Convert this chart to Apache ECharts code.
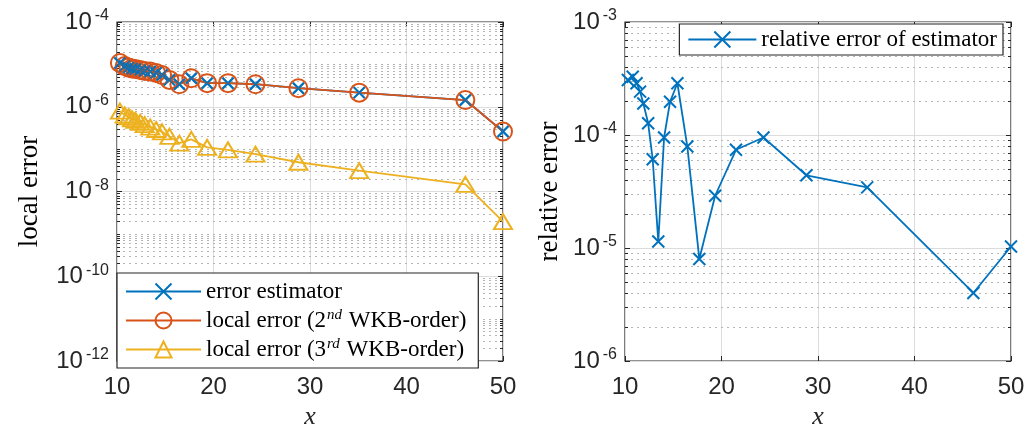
<!DOCTYPE html>
<html><head><meta charset="utf-8">
<script src="https://cdn.jsdelivr.net/npm/echarts@6/dist/echarts.min.js"></script>
<style>html,body{margin:0;padding:0;background:#fff}#c{width:1026px;height:428px}</style>
</head><body><div id="c"></div>
<script>
// ---- data ----
const xValues = [10.3, 10.8, 11.2, 11.56, 11.9, 12.4, 12.87, 13.45, 14.05, 14.67, 15.43, 16.46, 17.7, 19.34, 21.5, 24.35, 28.8, 35.1, 46.1, 50.0];
const errorEstimator = [1.08e-5, 9.1e-6, 8.4e-6, 8.0e-6, 7.8e-6, 7.4e-6, 7.0e-6, 6.8e-6, 6.3e-6, 5.6e-6, 4.3e-6, 3.4e-6, 4.7e-6, 3.6e-6, 3.6e-6, 3.4e-6, 2.74e-6, 2.15e-6, 1.44e-6, 2.6e-7];
const localError2nd = [1.08e-5, 9.1e-6, 8.4e-6, 8.0e-6, 7.8e-6, 7.4e-6, 7.0e-6, 6.8e-6, 6.3e-6, 5.6e-6, 4.3e-6, 3.4e-6, 4.7e-6, 3.6e-6, 3.6e-6, 3.4e-6, 2.74e-6, 2.15e-6, 1.44e-6, 2.6e-7];
const localError3rd = [7.9e-7, 6.4e-7, 5.8e-7, 5.2e-7, 4.8e-7, 4.3e-7, 3.8e-7, 3.3e-7, 2.9e-7, 2.56e-7, 2.0e-7, 1.38e-7, 1.7e-7, 1.1e-7, 9.6e-8, 7.6e-8, 4.9e-8, 3.1e-8, 1.47e-8, 1.95e-9];
const relativeError = [3.07e-4, 3.28e-4, 2.87e-4, 2.42e-4, 1.9e-4, 1.27e-4, 6.1e-5, 1.14e-5, 9.5e-5, 1.97e-4, 2.87e-4, 7.9e-5, 8.0e-6, 2.9e-5, 7.4e-5, 9.5e-5, 4.4e-5, 3.44e-5, 4.0e-6, 1.03e-5];
const xTicks = [10, 20, 30, 40, 50];
const leftYExponents = [-12, -10, -8, -6, -4];
const rightYExponents = [-6, -5, -4, -3];
const legendNames = ['error estimator', 'local error (2nd WKB-order)', 'local error (3rd WKB-order)', 'relative error of estimator'];

// ---- styles ----
const BLUE = '#0072BD', RED = '#D95319', YEL = '#EDB120', AX = '#262626';
const CROSS = 'path://M0,0L10,10M10,0L0,10';
const xMin = xTicks[0], xMax = xTicks[xTicks.length - 1];

function pairs(ys) { return xValues.map((x, i) => [x, ys[i]]); }
function minorVals(e0, e1) {
  const out = [];
  for (let e = e0; e < e1; e++) for (let m = 1; m <= 9; m++) {
    if (m === 1 && e === e0) continue;
    out.push(m * Math.pow(10, e));
  }
  return out;
}
function supFmt(v) {
  const e = Math.round(Math.log10(v));
  return '{b|10}{e|' + e + '}';
}
const tickRich = {
  b: { fontSize: 24, fontFamily: 'Liberation Sans', color: AX },
  e: { fontSize: 16, fontFamily: 'Liberation Sans', color: AX, padding: [0, 0, 12, 3] }
};
function xAxisDef(gi, pos, show) {
  return {
    type: 'value', gridIndex: gi, position: pos, min: xMin, max: xMax, interval: 10,
    axisLine: { show: false },
    axisTick: { show: true, inside: true, length: 5, lineStyle: { color: AX } },
    axisLabel: { show: show, margin: 14, fontSize: 24, fontFamily: 'Liberation Sans', color: AX },
    splitLine: { show: show, lineStyle: { color: '#dcdcdc', width: 1 } },
    name: show ? 'x' : '', nameLocation: 'middle', nameGap: 34,
    nameTextStyle: { fontFamily: 'Liberation Serif', fontStyle: 'italic', fontSize: 26, color: AX }
  };
}
function yAxisDef(gi, pos, e0, e1, interval, show, name, nameGap) {
  return {
    type: 'log', logBase: 10, gridIndex: gi, position: pos,
    min: Math.pow(10, e0), max: Math.pow(10, e1), interval: interval,
    axisLine: { show: false },
    axisTick: { show: true, inside: true, length: 5, lineStyle: { color: AX } },
    axisLabel: { show: show, margin: 8, formatter: supFmt, rich: tickRich },
    splitLine: { show: show, lineStyle: { color: '#dcdcdc', width: 1 } },
    minorTick: { show: false }, minorSplitLine: { show: false },
    name: show ? name : '', nameLocation: 'middle', nameGap: nameGap, nameRotate: 90,
    nameTextStyle: { fontFamily: 'Liberation Serif', fontSize: 27, color: '#000' }
  };
}
function minorGrid(xi, yi, vals) {
  return {
    type: 'custom', xAxisIndex: xi, yAxisIndex: yi, silent: true, z: 1, clip: false,
    data: vals.map(v => [xMin, v]), encode: { x: 0, y: 1 },
    renderItem: (params, api) => {
      const v = api.value(1);
      const a = api.coord([xMin, v]), b = api.coord([xMax, v]);
      const y = Math.round(a[1]) + 0.5;
      return { type: 'group', children: [
        { type: 'line', shape: { x1: a[0], y1: y, x2: b[0], y2: y }, style: { stroke: '#b5b5b5', lineWidth: 1, lineDash: [2, 4] } },
        { type: 'line', shape: { x1: a[0], y1: y, x2: a[0] + 3, y2: y }, style: { stroke: AX, lineWidth: 1 } },
        { type: 'line', shape: { x1: b[0] - 3, y1: y, x2: b[0], y2: y }, style: { stroke: AX, lineWidth: 1 } }
      ] };
    }
  };
}
const legText = {
  fontSize: 23, fontFamily: 'Liberation Serif', color: '#000',
  rich: {
    t: { fontSize: 23, lineHeight: 22, fontFamily: 'Liberation Serif', color: '#000' },
    s: { fontSize: 15, fontStyle: 'italic', fontFamily: 'Liberation Serif', color: '#000', padding: [0, 1, 10, 1] }
  }
};
function legFmt(name) {
  if (name === legendNames[1]) return '{t|local error (2}{s|nd}{t| WKB-order)}';
  if (name === legendNames[2]) return '{t|local error (3}{s|rd}{t| WKB-order)}';
  return '{t|' + name + '}';
}

const chart = echarts.init(document.getElementById('c'), null, { renderer: 'canvas' });
chart.setOption({
  animation: false,
  backgroundColor: '#fff',
  grid: [
    { left: 117, right: 523, top: 22, bottom: 67, outerBoundsMode: 'none', containLabel: false, show: true, borderColor: AX, borderWidth: 1.2, backgroundColor: 'transparent' },
    { left: 625, right: 15, top: 22, bottom: 67, outerBoundsMode: 'none', containLabel: false, show: true, borderColor: AX, borderWidth: 1.2, backgroundColor: 'transparent' }
  ],
  xAxis: [xAxisDef(0, 'bottom', true), xAxisDef(0, 'top', false), xAxisDef(1, 'bottom', true), xAxisDef(1, 'top', false)],
  yAxis: [
    yAxisDef(0, 'left', leftYExponents[0], leftYExponents[leftYExponents.length - 1], 2, true, 'local error', 74),
    yAxisDef(0, 'right', leftYExponents[0], leftYExponents[leftYExponents.length - 1], 2, false, '', 0),
    yAxisDef(1, 'left', rightYExponents[0], rightYExponents[rightYExponents.length - 1], 1, true, 'relative error', 62),
    yAxisDef(1, 'right', rightYExponents[0], rightYExponents[rightYExponents.length - 1], 1, false, '', 0)
  ],
  legend: [
    {
      data: legendNames.slice(0, 3), orient: 'vertical', left: 117, top: 273,
      itemWidth: 75, itemHeight: 20, itemGap: 5, padding: [7, 12, 7, 8],
      backgroundColor: '#fff', borderColor: AX, borderWidth: 1.2, borderRadius: 0,
      textStyle: legText, formatter: legFmt, selectedMode: false, z: 10
    },
    {
      data: [legendNames[3]], orient: 'vertical', right: 23, top: 24,
      itemWidth: 68, itemHeight: 20, padding: [4, 6, 4, 8],
      backgroundColor: '#fff', borderColor: AX, borderWidth: 1.2, borderRadius: 0,
      textStyle: legText, formatter: legFmt, selectedMode: false, z: 10
    }
  ],
  series: [
    minorGrid(0, 0, minorVals(leftYExponents[0], leftYExponents[leftYExponents.length - 1]).filter(v => {
      const e = Math.log10(v); return Math.abs(e - Math.round(e)) > 1e-9 || Math.round(e) % 2 !== 0;
    })),
    minorGrid(2, 2, minorVals(rightYExponents[0], rightYExponents[rightYExponents.length - 1]).filter(v => {
      const e = Math.log10(v); return Math.abs(e - Math.round(e)) > 1e-9;
    })),
    {
      name: legendNames[0], type: 'line', xAxisIndex: 0, yAxisIndex: 0, z: 2,
      data: pairs(errorEstimator), symbol: CROSS, symbolSize: 11,
      lineStyle: { color: BLUE, width: 1.8 },
      itemStyle: { color: 'rgba(0,0,0,0)', borderColor: BLUE, borderWidth: 2 }
    },
    {
      name: legendNames[1], type: 'line', xAxisIndex: 0, yAxisIndex: 0, z: 3,
      data: pairs(localError2nd), symbol: 'circle', symbolSize: 18,
      lineStyle: { color: RED, width: 1.8 },
      itemStyle: { color: 'rgba(0,0,0,0)', borderColor: RED, borderWidth: 2 }
    },
    {
      name: legendNames[2], type: 'line', xAxisIndex: 0, yAxisIndex: 0, z: 3,
      data: pairs(localError3rd), symbol: 'triangle', symbolSize: [18, 15],
      lineStyle: { color: YEL, width: 1.8 },
      itemStyle: { color: 'rgba(0,0,0,0)', borderColor: YEL, borderWidth: 2 }
    },
    {
      name: 'estimator markers', type: 'scatter', xAxisIndex: 0, yAxisIndex: 0, z: 4,
      data: pairs(errorEstimator), symbol: CROSS, symbolSize: 11,
      itemStyle: { color: 'rgba(0,0,0,0)', borderColor: BLUE, borderWidth: 2 }
    },
    {
      name: legendNames[3], type: 'line', xAxisIndex: 2, yAxisIndex: 2, z: 3,
      data: pairs(relativeError), symbol: CROSS, symbolSize: 12,
      lineStyle: { color: BLUE, width: 1.8 },
      itemStyle: { color: 'rgba(0,0,0,0)', borderColor: BLUE, borderWidth: 2 }
    }
  ]
});
</script></body></html>
